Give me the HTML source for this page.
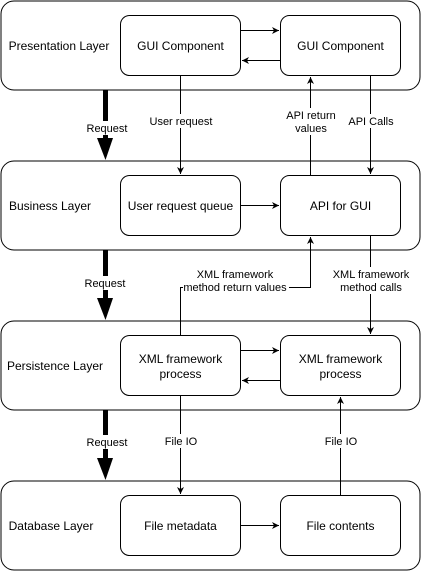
<!DOCTYPE html><html><head><style>body{margin:0;background:#fff}</style></head><body>
<svg width="421" height="571" viewBox="0 0 421 571" xmlns="http://www.w3.org/2000/svg" font-family="Liberation Sans, sans-serif">
<defs><marker id="a" markerWidth="8" markerHeight="8" refX="7" refY="4" orient="auto" markerUnits="userSpaceOnUse"><path d="M0,0.5 L7,4 L0,7.5 L2,4z" fill="#000"/></marker></defs>
<g fill="#fff" stroke="#000" stroke-width="1">
<rect x="1" y="1" width="419" height="89" rx="13"/>
<rect x="1" y="161" width="419" height="89" rx="13"/>
<rect x="1" y="321" width="419" height="89" rx="13"/>
<rect x="1" y="481" width="419" height="89" rx="13"/>
<rect x="120.5" y="15.5" width="120" height="60" rx="9"/><rect x="280.5" y="15.5" width="120" height="60" rx="9"/>
<rect x="120.5" y="175.5" width="120" height="60" rx="9"/><rect x="280.5" y="175.5" width="120" height="60" rx="9"/>
<rect x="120.5" y="335.5" width="120" height="60" rx="9"/><rect x="280.5" y="335.5" width="120" height="60" rx="9"/>
<rect x="120.5" y="495.5" width="120" height="60" rx="9"/><rect x="280.5" y="495.5" width="120" height="60" rx="9"/>
</g>
<g stroke="#000" fill="none" marker-end="url(#a)">
<path d="M240.5 30.5H279"/><path d="M280.5 60.5H242"/>
<path d="M180.5 75.5V174"/><path d="M310.5 175.5V77"/><path d="M370.5 75.5V174"/>
<path d="M240.5 205.5H279"/>
<path d="M180.5 335.5V287.5H310.5V237"/><path d="M370.5 235.5V334"/>
<path d="M240.5 350.5H279"/><path d="M280.5 380.5H242"/>
<path d="M180.5 395.5V494"/><path d="M340.5 495.5V397"/>
<path d="M240.5 525.5H279"/>
</g>
<g fill="#000">
<rect x="103" y="90" width="5" height="50"/><path d="M97 138L113 138L105.5 160z"/>
<rect x="103" y="250" width="5" height="50"/><path d="M97 298L113 298L105.5 320z"/>
<rect x="103" y="410" width="5" height="50"/><path d="M97 458L113 458L105.5 480z"/>
</g>
<g font-size="12" text-anchor="middle" fill="#000">
<text x="59" y="50">Presentation Layer</text>
<text x="50" y="210">Business Layer</text>
<text x="55" y="370">Persistence Layer</text>
<text x="51" y="530">Database Layer</text>
<text x="180.5" y="50">GUI Component</text><text x="340.5" y="50">GUI Component</text>
<text x="180.5" y="210">User request queue</text><text x="340.5" y="210">API for GUI</text>
<text x="180.5" y="363">XML framework</text><text x="180.5" y="378">process</text>
<text x="340.5" y="363">XML framework</text><text x="340.5" y="378">process</text>
<text x="180.5" y="530">File metadata</text><text x="340.5" y="530">File contents</text>
</g>
<g font-size="11" text-anchor="middle" fill="#000">
<rect x="86" y="121" width="43" height="14" fill="#fff"/><text x="107" y="132">Request</text>
<rect x="84" y="276" width="43" height="14" fill="#fff"/><text x="105" y="287">Request</text>
<rect x="86" y="435" width="43" height="14" fill="#fff"/><text x="107" y="446">Request</text>
<rect x="148" y="114" width="66" height="14" fill="#fff"/><text x="181" y="125">User request</text>
<rect x="285" y="108" width="52" height="27" fill="#fff"/><text x="311" y="119">API return</text><text x="311" y="132">values</text>
<rect x="348" y="114" width="48" height="14" fill="#fff"/><text x="371" y="125">API Calls</text>
<rect x="183" y="267" width="106" height="27" fill="#fff"/><text x="235" y="278">XML framework</text><text x="235" y="291">method return values</text>
<rect x="332" y="267" width="78" height="27" fill="#fff"/><text x="371" y="278">XML framework</text><text x="371" y="291">method calls</text>
<rect x="163" y="434" width="36" height="14" fill="#fff"/><text x="181" y="445">File IO</text>
<rect x="323" y="434" width="36" height="14" fill="#fff"/><text x="341" y="445">File IO</text>
</g>
</svg></body></html>
